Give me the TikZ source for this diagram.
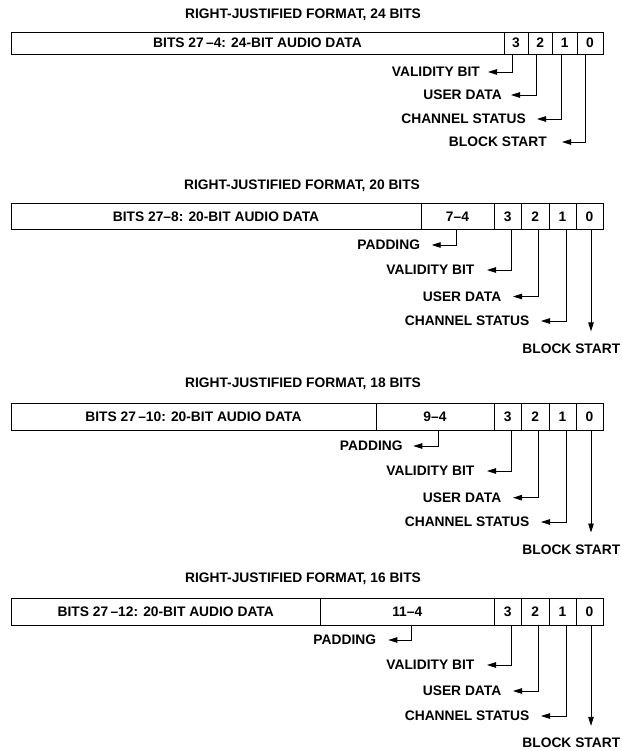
\documentclass[tikz,border=0pt]{standalone}
\usepackage{fontspec}
\setmainfont{Liberation Sans}
\usetikzlibrary{arrows.meta}
\newcommand\lblfont{\fontsize{13.8}{16}\selectfont\bfseries}
\begin{document}
\begin{tikzpicture}[x=1pt,y=-1pt,
  txt/.style={font=\lblfont, inner sep=0pt, text height=9.9pt, text depth=0pt},
  cell/.style={draw, line width=0.9pt, txt, anchor=center},
  lbl/.style={txt, anchor=east, inner xsep=11.5pt},
  blk/.style={txt, anchor=center},
  arr/.style={line width=0.85pt, -{Triangle[length=9pt,width=5.5pt]}},
  arrd/.style={arr, shorten >=12pt}]
\useasboundingbox (0,0) rectangle (621,751);

% ---------------- Panel 1: 24 bits ----------------
\node[txt] (t1) at (303,14) {RIGHT-JUSTIFIED FORMAT, 24 BITS};
\node[cell, minimum width=493pt, minimum height=22pt] (d1) at (257.5,43) {BITS 27\,–4: 24-BIT AUDIO DATA};
\node[cell, minimum width=24pt,   minimum height=22pt] (c13) at (516,43) {3};
\node[cell, minimum width=24.5pt, minimum height=22pt] (c12) at (540.25,43) {2};
\node[cell, minimum width=24.5pt, minimum height=22pt] (c11) at (564.75,43) {1};
\node[cell, minimum width=26pt,   minimum height=22pt] (c10) at (590,43) {0};
\coordinate (v13) at (512,54);
\coordinate (v12) at (536,54);
\coordinate (v11) at (561,54);
\coordinate (v10) at (585,54);
\node[lbl, inner xsep=8pt]  (l13) at (488,72)  {VALIDITY BIT};
\node[lbl, inner xsep=9pt]  (l12) at (511,95)  {USER DATA};
\node[lbl, inner xsep=11pt] (l11) at (537,119) {CHANNEL STATUS};
\node[lbl, inner xsep=15pt] (l10) at (562,142) {BLOCK START};
\draw[arr] (v13) |- (l13.east);
\draw[arr] (v12) |- (l12.east);
\draw[arr] (v11) |- (l11.east);
\draw[arr] (v10) |- (l10.east);

% ---------------- Panel 2: 20 bits ----------------
\node[txt] (t2) at (302,185) {RIGHT-JUSTIFIED FORMAT, 20 BITS};
\node[cell, minimum width=410pt,  minimum height=26.5pt] (d2) at (216,216.25) {BITS 27–8: 20-BIT AUDIO DATA};
\node[cell, minimum width=73pt,   minimum height=26.5pt] (p2) at (457.5,216.25) {7–4};
\node[cell, minimum width=27.5pt, minimum height=26.5pt] (c23) at (507.75,216.25) {3};
\node[cell, minimum width=27.5pt, minimum height=26.5pt] (c22) at (535.25,216.25) {2};
\node[cell, minimum width=27pt,   minimum height=26.5pt] (c21) at (562.5,216.25) {1};
\node[cell, minimum width=27pt,   minimum height=26.5pt] (c20) at (589.5,216.25) {0};
\coordinate (vp2) at (456.7,229.5);
\coordinate (v23) at (511,229.5);
\coordinate (v22) at (538.3,229.5);
\coordinate (v21) at (566,229.5);
\coordinate (v20) at (591,229.5);
\node[lbl] (lp2) at (431.7,245) {PADDING};
\node[lbl, inner xsep=12.5pt] (l23) at (487,270) {VALIDITY BIT};
\node[lbl] (l22) at (513,296.5) {USER DATA};
\node[lbl] (l21) at (541,321) {CHANNEL STATUS};
\node[blk] (l20) at (571.3,348.5) {BLOCK START};
\draw[arr] (vp2) |- (lp2.east);
\draw[arr] (v23) |- (l23.east);
\draw[arr] (v22) |- (l22.east);
\draw[arr] (v21) |- (l21.east);
\draw[arrd] (v20) -- (v20 |- l20.north);

% ---------------- Panel 3: 18 bits ----------------
\node[txt] (t3) at (303,383) {RIGHT-JUSTIFIED FORMAT, 18 BITS};
\node[cell, minimum width=365pt,  minimum height=27.4pt] (d3) at (193.5,417) {BITS 27\,–10: 20-BIT AUDIO DATA};
\node[cell, minimum width=118pt,  minimum height=27.4pt] (p3) at (435,417) {9–4};
\node[cell, minimum width=27.5pt, minimum height=27.4pt] (c33) at (507.75,417) {3};
\node[cell, minimum width=27.5pt, minimum height=27.4pt] (c32) at (535.25,417) {2};
\node[cell, minimum width=27pt,   minimum height=27.4pt] (c31) at (562.5,417) {1};
\node[cell, minimum width=27pt,   minimum height=27.4pt] (c30) at (589.5,417) {0};
\coordinate (vp3) at (438.3,430.7);
\coordinate (v33) at (511,430.7);
\coordinate (v32) at (538.3,430.7);
\coordinate (v31) at (566,430.7);
\coordinate (v30) at (591,430.7);
\node[lbl, inner xsep=10.5pt] (lp3) at (413.3,446) {PADDING};
\node[lbl, inner xsep=12.5pt] (l33) at (487,471) {VALIDITY BIT};
\node[lbl] (l32) at (513,497.7) {USER DATA};
\node[lbl] (l31) at (541,522) {CHANNEL STATUS};
\node[blk] (l30) at (571.3,549.7) {BLOCK START};
\draw[arr] (vp3) |- (lp3.east);
\draw[arr] (v33) |- (l33.east);
\draw[arr] (v32) |- (l32.east);
\draw[arr] (v31) |- (l31.east);
\draw[arrd] (v30) -- (v30 |- l30.north);

% ---------------- Panel 4: 16 bits ----------------
\node[txt] (t4) at (303,578) {RIGHT-JUSTIFIED FORMAT, 16 BITS};
\node[cell, minimum width=309.5pt, minimum height=27.4pt] (d4) at (165.75,612) {BITS 27\,–12: 20-BIT AUDIO DATA};
\node[cell, minimum width=173.5pt, minimum height=27.4pt] (p4) at (407.25,612) {11–4};
\node[cell, minimum width=27.5pt, minimum height=27.4pt] (c43) at (507.75,612) {3};
\node[cell, minimum width=27.5pt, minimum height=27.4pt] (c42) at (535.25,612) {2};
\node[cell, minimum width=27pt,   minimum height=27.4pt] (c41) at (562.5,612) {1};
\node[cell, minimum width=27pt,   minimum height=27.4pt] (c40) at (589.5,612) {0};
\coordinate (vp4) at (411.7,625.7);
\coordinate (v43) at (511,625.7);
\coordinate (v42) at (538.3,625.7);
\coordinate (v41) at (566,625.7);
\coordinate (v40) at (591,625.7);
\node[lbl, inner xsep=12pt] (lp4) at (388.3,640) {PADDING};
\node[lbl, inner xsep=12.5pt] (l43) at (487,665) {VALIDITY BIT};
\node[lbl] (l42) at (513,691) {USER DATA};
\node[lbl] (l41) at (541,716) {CHANNEL STATUS};
\node[blk] (l40) at (571.3,743) {BLOCK START};
\draw[arr] (vp4) |- (lp4.east);
\draw[arr] (v43) |- (l43.east);
\draw[arr] (v42) |- (l42.east);
\draw[arr] (v41) |- (l41.east);
\draw[arrd] (v40) -- (v40 |- l40.north);
\end{tikzpicture}
\end{document}
